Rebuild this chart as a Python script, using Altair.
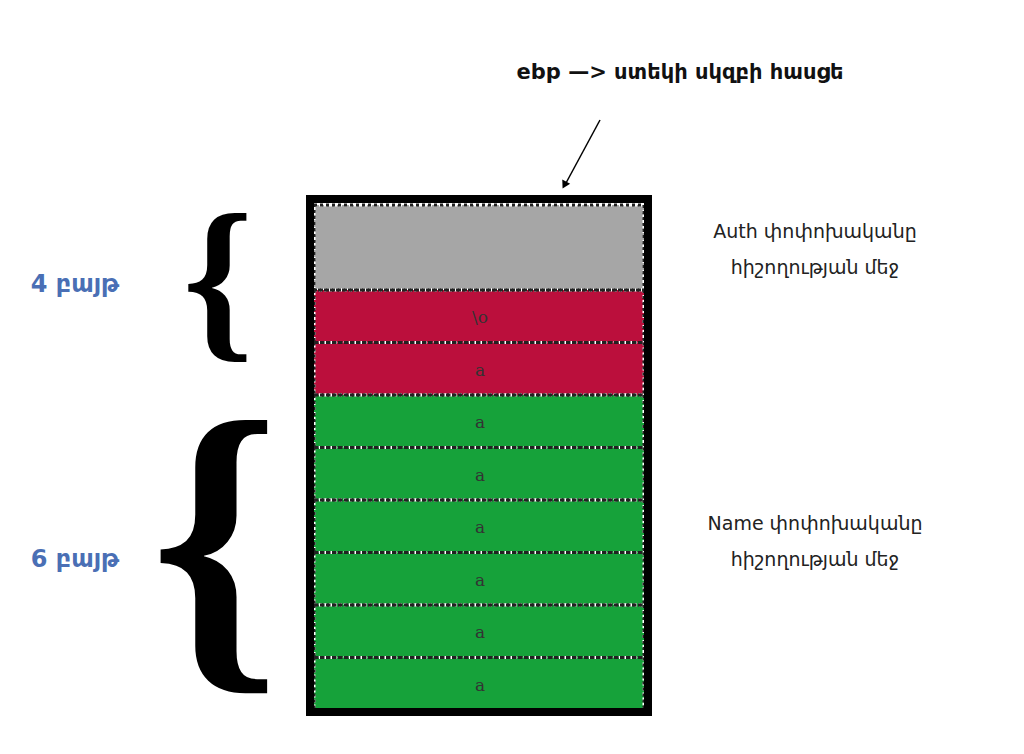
import altair as alt
import pandas as pd

# stack contents, top to bottom
cell_labels = ["", "\\o", "a", "a", "a", "a", "a", "a", "a"]
cell_kinds = ["auth", "name_end", "name_end", "name", "name", "name", "name", "name", "name"]
cell_colors = {"auth": "#a6a6a6", "name_end": "#bb0f3c", "name": "#16a23a"}

title_text = "ebp —> ստեկի սկզբի հասցե"
size_labels = ["4 բայթ", "6 բայթ"]
side_notes = [["Auth փոփոխականը", "հիշողության մեջ"], ["Name փոփոխականը", "հիշողության մեջ"]]

W, H = 1008, 738
X = alt.Scale(domain=[8, 8 + W])
Y = alt.Scale(domain=[8, 8 + H], reverse=True)

# cell geometry in reference pixel space
top, first_h, cell_h = 205, 85, 52.5
rows = []
y = top
for i, (lab, kind) in enumerate(zip(cell_labels, cell_kinds)):
    h = first_h if i == 0 else cell_h
    rows.append({"x": 314, "x2": 644, "y": y, "y2": y + h, "ym": y + h / 2 + 2,
                 "label": lab, "color": cell_colors[kind], "xm": 480})
    y += h
cells = pd.DataFrame(rows)

base = alt.Chart(cells)
rects = base.mark_rect(stroke="white", strokeDash=[3, 2], strokeWidth=3).encode(
    x=alt.X("x:Q", scale=X, axis=None), x2="x2", y=alt.Y("y:Q", scale=Y, axis=None), y2="y2",
    fill=alt.Color("color:N", scale=None))
outline = base.mark_rect(fill=None, stroke="#222", strokeDash=[3, 3], strokeWidth=3).encode(
    x=alt.X("x:Q", scale=X), x2="x2", y=alt.Y("y:Q", scale=Y), y2="y2")
letters = base.mark_text(font="DejaVu Serif", fontSize=17, color="#333").encode(
    x=alt.X("xm:Q", scale=X), y=alt.Y("ym:Q", scale=Y), text="label:N")

frame = alt.Chart(pd.DataFrame([{"x": 310, "x2": 648, "y": 199, "y2": 712}])).mark_rect(
    fill=None, stroke="black", strokeWidth=8).encode(
    x=alt.X("x:Q", scale=X), x2="x2", y=alt.Y("y:Q", scale=Y), y2="y2")

def txt(df, **kw):
    return alt.Chart(pd.DataFrame(df)).mark_text(**kw).encode(
        x=alt.X("x:Q", scale=X), y=alt.Y("y:Q", scale=Y), text="t:N")

title = txt([{"x": 680, "y": 73, "t": title_text}], font="DejaVu Sans", fontWeight="bold", fontSize=21, color="#111")
sizes = txt([{"x": 75, "y": 285, "t": size_labels[0]}, {"x": 75, "y": 560, "t": size_labels[1]}],
            font="DejaVu Sans", fontWeight="bold", fontSize=24, color="#4a6fb5")
notes = txt([{"x": 815, "y": 232, "t": side_notes[0][0]}, {"x": 815, "y": 268, "t": side_notes[0][1]},
             {"x": 815, "y": 524, "t": side_notes[1][0]}, {"x": 815, "y": 560, "t": side_notes[1][1]}],
            font="DejaVu Sans", fontSize=19, color="#222")
brace1 = txt([{"x": 218, "y": 284, "t": "{"}], font="Liberation Serif", fontWeight="bold",
             fontSize=180, color="black", baseline="middle")
brace2 = txt([{"x": 215, "y": 550, "t": "{"}], font="Liberation Serif", fontWeight="bold",
             fontSize=330, color="black", baseline="middle")

arrow_df = pd.DataFrame([{"x": 600, "y": 120, "o": 0}, {"x": 566, "y": 183, "o": 1}])
arrow_line = alt.Chart(arrow_df).mark_line(color="black", strokeWidth=1.5).encode(
    x=alt.X("x:Q", scale=X), y=alt.Y("y:Q", scale=Y), order="o:Q")
arrow_head = alt.Chart(pd.DataFrame([{"x": 565, "y": 184}])).mark_point(
    shape="triangle", angle=208, filled=True, color="black", size=80, opacity=1).encode(
    x=alt.X("x:Q", scale=X), y=alt.Y("y:Q", scale=Y))

chart = alt.layer(rects, outline, letters, frame, title, sizes, notes, brace1, brace2, arrow_line, arrow_head).properties(
    width=W, height=H, autosize=alt.AutoSizeParams(type="none"), padding=0, background="white"
).configure_view(stroke=None)

chart.save("out.html", embed_options={"renderer": "svg", "actions": False})
